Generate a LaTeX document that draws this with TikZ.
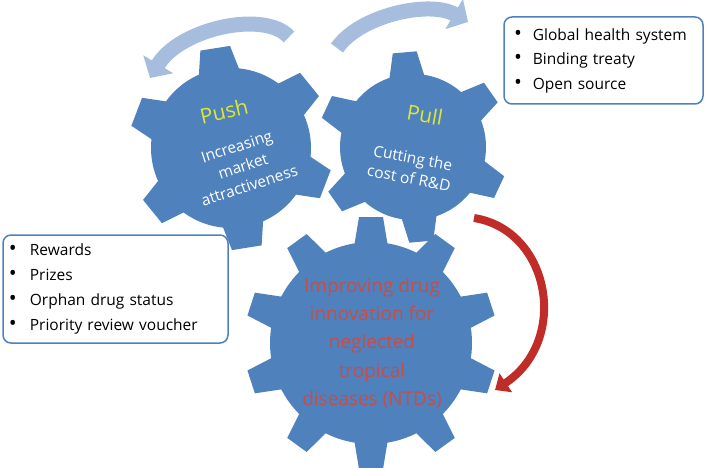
\documentclass[tikz,border=0pt]{standalone}
\usepackage{fontspec}
\setmainfont{Open Sans}
\usetikzlibrary{arrows.meta}
\definecolor{gearblue}{RGB}{79,129,189}
\definecolor{swirlblue}{RGB}{167,189,221}
\definecolor{arrowred}{RGB}{192,45,40}
\definecolor{goalred}{RGB}{196,78,75}
\definecolor{labelyellow}{RGB}{220,232,50}
\newcommand{\listdot}{\scalebox{1.35}{\textbullet}}
\tikzset{
  gearbody/.style={shape=circle, fill=gearblue, inner sep=0pt},
  tooth/.style={fill=gearblue},
  gearword/.style={text=labelyellow, font=\fontsize{21}{24}\selectfont},
  geartext/.style={text=white, align=center, font=\fontsize{15.5}{20.5}\selectfont},
  goaltext/.style={text=goalred, align=center, font=\fontsize{19}{28.3}\selectfont},
  listbox/.style={draw=gearblue, line width=1.5pt, rounded corners=8pt, fill=white,
    align=left},
  swirl/.style={draw=swirlblue, line width=15pt, -{Triangle[length=16pt, width=34pt]}},
  redswing/.style={draw=arrowred, line width=8pt, -{Triangle[length=13pt, width=22pt]}}
}

\begin{document}
\begin{tikzpicture}[x=1pt, y=-1pt]
\useasboundingbox (0,0) rectangle (709,468);
% gears
\node at (231, 148) [gearbody, minimum size=160pt] (push) {};
\begin{scope}[shift={(push.center)}, rotate=99]
\foreach \a in {0,60,...,300}
  \fill [tooth, rotate=\a] (74,-21) -- (101,-15) -- (101,15) -- (74,21) -- cycle;
\end{scope}
\node at (413, 147) [gearbody, minimum size=146pt] (pull) {};
\begin{scope}[shift={(pull.center)}, rotate=95]
\foreach \a in {0,60,...,300}
  \fill [tooth, rotate=\a] (68,-18) -- (95,-12) -- (95,12) -- (68,18) -- cycle;
\end{scope}
\node at (371, 343) [gearbody, minimum size=202pt] (goal) {};
\begin{scope}[shift={(goal.center)}, rotate=90]
\foreach \a in {0,36,...,324}
  \fill [tooth, rotate=\a] (96,-17) -- (126,-12) -- (126,12) -- (96,17) -- cycle;
\end{scope}

% gear texts
\node at (224, 111) [gearword, rotate=13] (pushword) {Push};
\node at (243, 166) [geartext, rotate=18] (pushtext) {Increasing\\market\\attractiveness};
\node at (425, 115) [gearword, rotate=-10] (pullword) {Pull};
\node at (411, 168) [geartext, rotate=-11] (pulltext) {Cutting the\\cost of R\&D};
\node at (372, 343) [goaltext] (goaltext) {Improving drug\\innovation for\\neglected\\tropical\\diseases (NTDs)};

% curved arrows
\coordinate (pushtail) at (289, 37);
\coordinate (pushtip) at (150, 78);
\coordinate (pulltail) at (337, 48);
\coordinate (pulltip) at (468, 22);
\coordinate (redtail) at (474, 218);
\coordinate (redtip) at (495, 390);
\draw [swirl] (pushtail) .. controls (265, 10) and (180, 28) .. (pushtip);
\draw [swirl] (pulltail) .. controls (360, 15) and (430, 0) .. (pulltip);
\draw [redswing] (redtail) .. controls (550, 230) and (570, 340) .. (redtip);

% lists
\node at (603.5, 60.5) [listbox, minimum width=199pt, minimum height=87pt,
  text width=179pt, inner xsep=10pt, font=\fontsize{15.5}{24.5}\selectfont] (pulllist)
  {\listdot\hspace{11pt}Global health system\\
   \listdot\hspace{11pt}Binding treaty\\
   \listdot\hspace{11pt}Open source};
\node at (115.5, 289) [listbox, minimum width=225pt, minimum height=108pt,
  text width=213pt, inner xsep=6pt, font=\fontsize{15.5}{25}\selectfont] (pushlist)
  {\listdot\hspace{13pt}Rewards\\
   \listdot\hspace{13pt}Prizes\\
   \listdot\hspace{13pt}Orphan drug status\\
   \listdot\hspace{13pt}Priority review voucher};
\end{tikzpicture}
\end{document}
